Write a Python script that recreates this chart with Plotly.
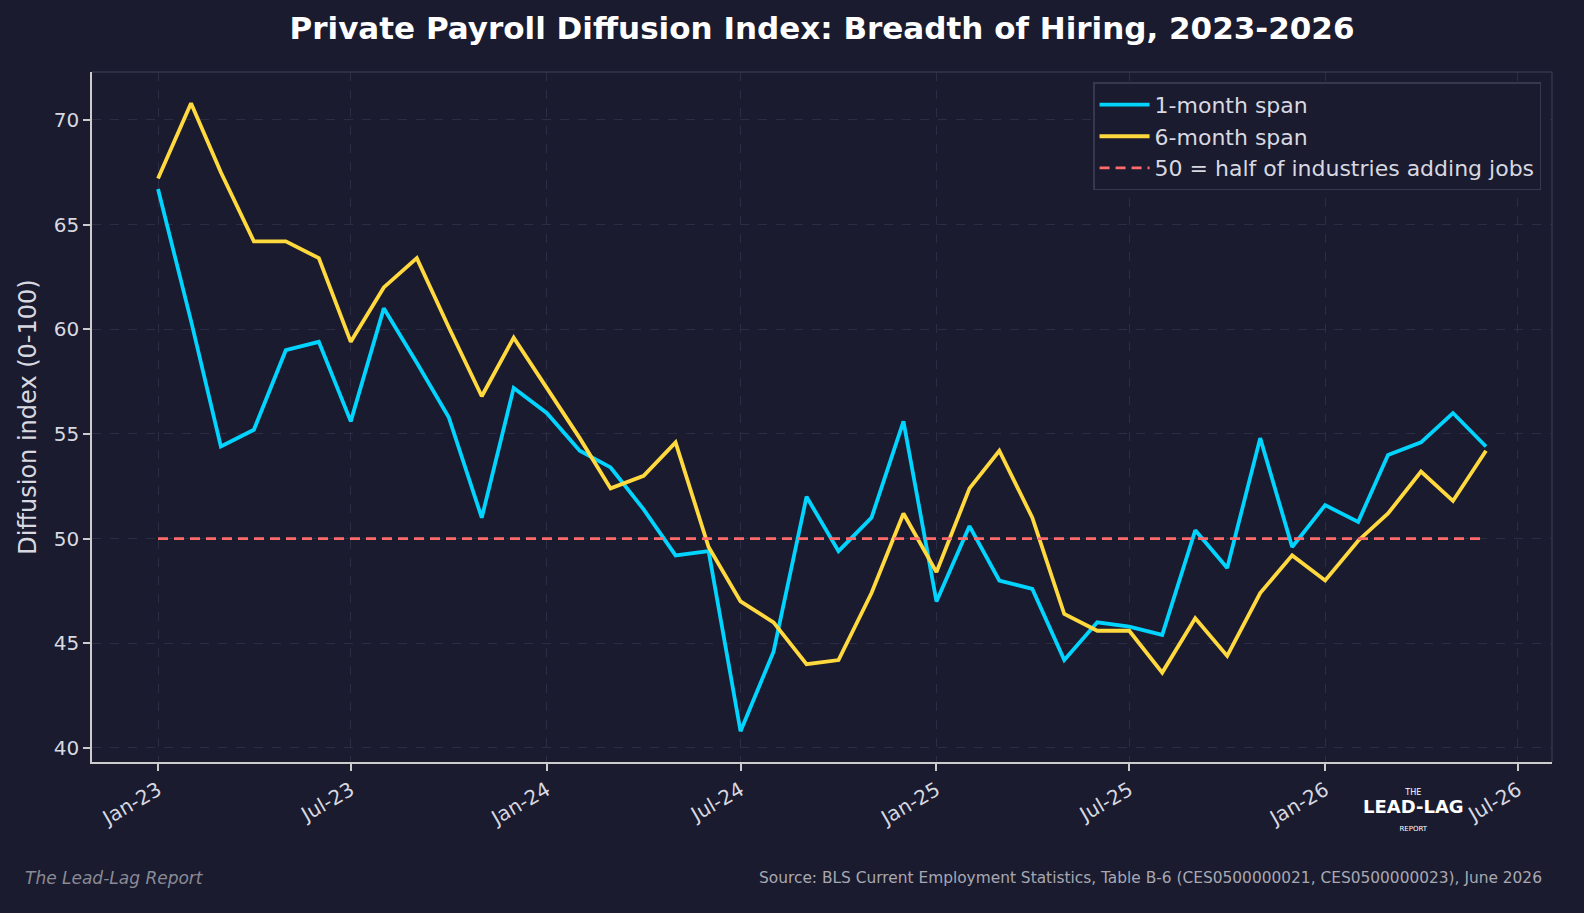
import pandas as pd
import plotly.graph_objects as go

# Monthly diffusion index readings, Jan-2023 through Jun-2026
months = pd.date_range("2023-01-01", "2026-06-01", freq="MS")

one_month_span = [
    66.7, 60.4, 54.4, 55.2, 59.0, 59.4, 55.6, 61.0, 58.4, 55.8, 51.0, 57.2,
    56.0, 54.2, 53.4, 51.4, 49.2, 49.4, 40.8, 44.6, 52.0, 49.4, 51.0, 55.6,
    47.0, 50.6, 48.0, 47.6, 44.2, 46.0, 45.8, 45.4, 50.4, 48.6, 54.8, 49.6,
    51.6, 50.8, 54.0, 54.6, 56.0, 54.4,
]
six_month_span = [
    67.2, 70.8, 67.5, 64.2, 64.2, 63.4, 59.4, 62.0, 63.4, 60.1, 56.8, 59.6,
    57.2, 54.8, 52.4, 53.0, 54.6, 49.6, 47.0, 46.0, 44.0, 44.2, 47.4, 51.2,
    48.4, 52.4, 54.2, 51.0, 46.4, 45.6, 45.6, 43.6, 46.2, 44.4, 47.4, 49.2,
    48.0, 49.9, 51.2, 53.2, 51.8, 54.2,
]
threshold = [50] * len(months)
y_ticks = [40, 45, 50, 55, 60, 65, 70]

BG = "#1a1b2e"
GRID = "#2a2d44"
TEXT = "#d8d8e0"
FONT = "DejaVu Sans"

fig = go.Figure()

fig.add_trace(go.Scatter(
    x=months, y=one_month_span, mode="lines", name="1-month span",
    line=dict(color="#00d4ff", width=3.8),
))
fig.add_trace(go.Scatter(
    x=months, y=six_month_span, mode="lines", name="6-month span",
    line=dict(color="#ffd93d", width=3.8),
))
fig.add_trace(go.Scatter(
    x=months, y=threshold, mode="lines", name="50 = half of industries adding jobs",
    line=dict(color="#ff6b6b", width=2.6, dash="10px,6px"),
))

fig.update_layout(
    width=1584,
    height=913,
    paper_bgcolor=BG,
    plot_bgcolor=BG,
    font=dict(family=FONT, color=TEXT, size=20),
    margin=dict(l=92, r=32, t=72, b=151),
    title=dict(
        text="<b>Private Payroll Diffusion Index: Breadth of Hiring, 2023-2026</b>",
        xref="paper", x=0.5, xanchor="center", y=0.969, yanchor="middle",
        font=dict(family=FONT, size=31, color="#ffffff"),
    ),
    legend=dict(
        x=0.9925, y=0.985, xanchor="right", yanchor="top",
        bgcolor=BG, bordercolor="#35384f", borderwidth=1.5,
        font=dict(family=FONT, size=22, color=TEXT),
        itemwidth=50,
    ),
    showlegend=True,
)

fig.update_xaxes(
    range=["2022-10-31", "2026-08-02"],
    tick0="2023-01-01", dtick="M6", tickformat="%b-%y",
    tickangle=-30,
    ticks="outside", ticklen=7, tickwidth=1.5, tickcolor="#cccccc",
    tickfont=dict(size=20, color=TEXT),
    showline=True, linecolor="#cccccc", linewidth=1.5,
    showgrid=True, gridcolor=GRID, griddash="dash", gridwidth=1,
    zeroline=False,
)
fig.update_yaxes(
    range=[39.33, 72.29],
    tickvals=y_ticks,
    ticks="outside", ticklen=7, tickwidth=1.5, tickcolor="#cccccc",
    tickfont=dict(size=20, color=TEXT),
    title=dict(text="Diffusion index (0-100)", font=dict(size=24, color=TEXT), standoff=10),
    showline=True, linecolor="#cccccc", linewidth=1.5,
    showgrid=True, gridcolor=GRID, griddash="dash", gridwidth=1,
    zeroline=False,
)

# faint top and right frame edges
fig.add_shape(type="line", xref="paper", yref="paper", x0=0, x1=1, y0=1, y1=1,
              line=dict(color="#33364d", width=1.5))
fig.add_shape(type="line", xref="paper", yref="paper", x0=1, x1=1, y0=0, y1=1,
              line=dict(color="#33364d", width=1.5))

# footer texts
fig.add_annotation(
    text="<i>The Lead-Lag Report</i>", xref="paper", yref="paper",
    x=-0.047, y=-0.168, xanchor="left", yanchor="middle", showarrow=False,
    font=dict(family=FONT, size=17, color="#8a8a96"),
)
fig.add_annotation(
    text="Source: BLS Current Employment Statistics, Table B-6 (CES0500000021, CES0500000023), June 2026",
    xref="paper", yref="paper", x=0.9945, y=-0.168, xanchor="right", yanchor="middle",
    showarrow=False, font=dict(family=FONT, size=15.4, color="#a8a8b2"),
)

# logo wordmark (one text block so the lines stack cleanly)
fig.add_annotation(
    text=("<span style='font-size:8px'>THE</span><br>"
          "<span style='font-size:18px'><b>LEAD-LAG</b></span><br>"
          "<span style='font-size:7px'>REPORT</span>"),
    xref="paper", yref="paper", x=0.905, y=-0.07,
    xanchor="center", yanchor="middle", showarrow=False, borderpad=0,
    font=dict(family=FONT, size=14, color="#ffffff"),
)

fig.write_html(
    "out.html",
    config={"displayModeBar": False},
    post_script="document.body.style.margin = '0';",
)
